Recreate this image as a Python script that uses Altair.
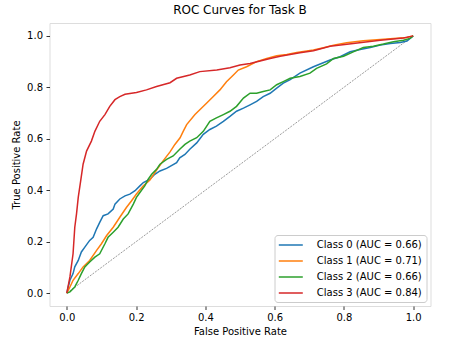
import altair as alt
import pandas as pd

classes = ["Class 0", "Class 1", "Class 2", "Class 3"]
aucs = [0.66, 0.71, 0.66, 0.84]
colors = ["#1f77b4", "#ff7f0e", "#2ca02c", "#d62728"]
ticks = [0.0, 0.2, 0.4, 0.6, 0.8, 1.0]

fpr0 = [0, 0.004, 0.009, 0.018, 0.023, 0.033, 0.042, 0.052, 0.066, 0.076, 0.086, 0.095, 0.105, 0.119,
        0.134, 0.139, 0.153, 0.168, 0.182, 0.197, 0.211, 0.221, 0.240, 0.254, 0.269, 0.288, 0.317, 0.326,
        0.341, 0.355, 0.375, 0.394, 0.413, 0.432, 0.452, 0.471, 0.490, 0.510, 0.529, 0.548, 0.567, 0.587,
        0.606, 0.625, 0.645, 0.673, 0.712, 0.760, 0.789, 0.818, 0.847, 0.876, 0.905, 0.934, 0.963, 0.982, 1.0]
tpr0 = [0, 0.024, 0.050, 0.076, 0.102, 0.127, 0.160, 0.179, 0.205, 0.217, 0.250, 0.275, 0.301, 0.308,
        0.327, 0.346, 0.366, 0.378, 0.385, 0.398, 0.417, 0.430, 0.443, 0.462, 0.475, 0.485, 0.507, 0.526,
        0.539, 0.559, 0.584, 0.617, 0.636, 0.649, 0.668, 0.687, 0.707, 0.719, 0.732, 0.745, 0.764, 0.777,
        0.797, 0.816, 0.830, 0.855, 0.880, 0.906, 0.919, 0.938, 0.947, 0.955, 0.964, 0.970, 0.974, 0.980, 1.0]

fpr1 = [0, 0.009, 0.018, 0.033, 0.047, 0.066, 0.086, 0.100, 0.115, 0.134, 0.153, 0.172, 0.187, 0.201,
        0.221, 0.240, 0.259, 0.278, 0.298, 0.312, 0.327, 0.336, 0.346, 0.370, 0.384, 0.404, 0.423, 0.442,
        0.461, 0.481, 0.495, 0.519, 0.548, 0.577, 0.606, 0.635, 0.664, 0.712, 0.741, 0.770, 0.808, 0.856,
        0.905, 0.943, 0.982, 1.0]
tpr1 = [0, 0.024, 0.050, 0.076, 0.102, 0.127, 0.166, 0.192, 0.224, 0.256, 0.295, 0.333, 0.359, 0.385,
        0.417, 0.440, 0.478, 0.514, 0.549, 0.578, 0.604, 0.629, 0.655, 0.694, 0.713, 0.739, 0.764, 0.790,
        0.822, 0.848, 0.867, 0.880, 0.900, 0.912, 0.923, 0.928, 0.935, 0.945, 0.954, 0.964, 0.973, 0.981,
        0.986, 0.990, 0.994, 1.0]

fpr2 = [0, 0.009, 0.023, 0.033, 0.042, 0.052, 0.066, 0.081, 0.095, 0.110, 0.119, 0.134, 0.148, 0.163,
        0.177, 0.192, 0.201, 0.211, 0.225, 0.235, 0.245, 0.259, 0.269, 0.288, 0.307, 0.326, 0.341, 0.355,
        0.375, 0.394, 0.413, 0.432, 0.452, 0.471, 0.490, 0.510, 0.529, 0.548, 0.567, 0.587, 0.606, 0.625,
        0.645, 0.673, 0.702, 0.721, 0.750, 0.770, 0.799, 0.827, 0.856, 0.885, 0.914, 0.943, 0.972, 0.991, 1.0]
tpr2 = [0, 0.005, 0.024, 0.050, 0.076, 0.102, 0.121, 0.140, 0.153, 0.192, 0.217, 0.237, 0.256, 0.288,
        0.308, 0.346, 0.372, 0.391, 0.417, 0.443, 0.462, 0.481, 0.501, 0.520, 0.533, 0.559, 0.578, 0.591,
        0.604, 0.629, 0.668, 0.681, 0.694, 0.707, 0.726, 0.758, 0.777, 0.777, 0.784, 0.790, 0.810, 0.822,
        0.835, 0.842, 0.855, 0.874, 0.891, 0.912, 0.921, 0.938, 0.955, 0.960, 0.968, 0.977, 0.983, 0.990, 1.0]

fpr3 = [0, 0.009, 0.018, 0.023, 0.028, 0.033, 0.040, 0.047, 0.057, 0.071, 0.081, 0.095, 0.110, 0.124,
        0.139, 0.153, 0.168, 0.201, 0.230, 0.259, 0.298, 0.317, 0.355, 0.384, 0.433, 0.471, 0.500, 0.529,
        0.558, 0.587, 0.616, 0.673, 0.712, 0.760, 0.827, 0.905, 0.972, 1.0]
tpr3 = [0, 0.063, 0.153, 0.256, 0.308, 0.372, 0.436, 0.501, 0.552, 0.591, 0.629, 0.668, 0.694, 0.726,
        0.752, 0.764, 0.773, 0.780, 0.790, 0.803, 0.818, 0.835, 0.848, 0.861, 0.867, 0.876, 0.887, 0.893,
        0.902, 0.912, 0.921, 0.934, 0.942, 0.960, 0.970, 0.983, 0.992, 1.0]

chance_fpr = [0.0, 1.0]
chance_tpr = [0.0, 1.0]

FONT = "DejaVu Sans"

labels = [f"{c} (AUC = {a:.2f})" for c, a in zip(classes, aucs)]
rows = []
for lab, fpr, tpr in zip(labels, [fpr0, fpr1, fpr2, fpr3], [tpr0, tpr1, tpr2, tpr3]):
    for i, (x, y) in enumerate(zip(fpr, tpr)):
        rows.append({"series": lab, "fpr": x, "tpr": y, "order": i})
df = pd.DataFrame(rows)
diag = pd.DataFrame({"fpr": chance_fpr, "tpr": chance_tpr})

xscale = alt.Scale(domain=[-0.05, 1.05], nice=False, zero=False)
yscale = alt.Scale(domain=[-0.05, 1.05], nice=False, zero=False)

axis_common = dict(values=ticks, format=".1f", grid=False, domain=False, tickSize=3.5, tickWidth=0.8,
                   tickColor="black", labelFontSize=10, labelColor="black", labelFont=FONT,
                   titleFontSize=10, titleFontWeight="normal", titleColor="black", titleFont=FONT)

xaxis = alt.Axis(title="False Positive Rate", labelPadding=3, titlePadding=4, **axis_common)
yaxis = alt.Axis(title="True Positive Rate", labelPadding=3.5, titlePadding=5, **axis_common)

lines = alt.Chart(df).mark_line(strokeWidth=1.5).encode(
    x=alt.X("fpr:Q", scale=xscale, axis=xaxis),
    y=alt.Y("tpr:Q", scale=yscale, axis=yaxis),
    color=alt.Color("series:N", scale=alt.Scale(domain=labels, range=colors),
                    legend=alt.Legend(title=None, orient="none", legendX=225, legendY=212,
                                      fillColor="white", strokeColor="#cccccc", cornerRadius=3,
                                      padding=4, symbolType="M-2.4,0H2.4", symbolSize=100,
                                      symbolStrokeWidth=1.5, symbolOffset=6.3, labelOffset=20,
                                      rowPadding=5, labelFontSize=10, labelFont=FONT,
                                      labelColor="black")),
    order="order:Q",
)

chance = alt.Chart(diag).mark_line(color="#555555", strokeWidth=0.6, strokeDash=[2, 1.2]).encode(
    x=alt.X("fpr:Q", scale=xscale),
    y=alt.Y("tpr:Q", scale=yscale),
)

chart = alt.layer(chance, lines).properties(
    width=381, height=283,
    title=alt.Title("ROC Curves for Task B", fontSize=12, fontWeight="normal", font=FONT,
                    color="black", offset=6),
    autosize=alt.AutoSizeParams(type="none"),
    padding={"left": 49.5, "top": 23, "right": 25.5, "bottom": 41},
).configure_view(stroke="black", strokeWidth=0.8).configure(background="white")

chart.save("out.html", embed_options={"renderer": "svg", "actions": False})
